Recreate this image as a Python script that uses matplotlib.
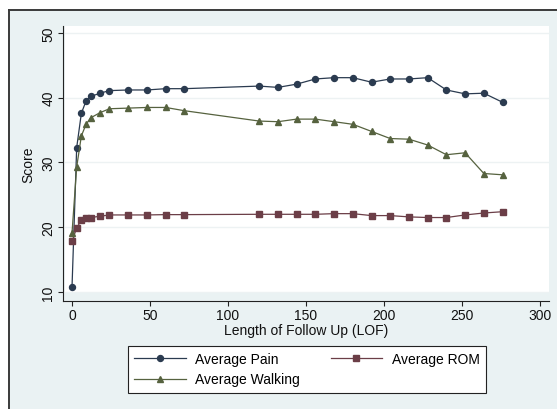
import matplotlib
matplotlib.use("Agg")
import matplotlib.pyplot as plt
from matplotlib.patches import Rectangle
from matplotlib.lines import Line2D

# ---- data ----
lof = [0, 3, 6, 9, 12, 18, 24, 36, 48, 60, 72, 120, 132, 144, 156, 168, 180,
       192, 204, 216, 228, 240, 252, 264, 276]
avg_pain = [10.7, 32.3, 37.6, 39.5, 40.2, 40.7, 41.1, 41.2, 41.2, 41.4, 41.4,
            41.8, 41.6, 42.1, 42.9, 43.1, 43.1, 42.4, 42.9, 42.9, 43.1, 41.2,
            40.6, 40.7, 39.3]
avg_rom = [17.8, 19.9, 21.1, 21.4, 21.5, 21.7, 21.9, 21.9, 21.9, 21.95, 21.95,
           22.0, 22.0, 22.0, 22.0, 22.1, 22.1, 21.8, 21.8, 21.6, 21.5, 21.5,
           21.9, 22.2, 22.4]
avg_walk = [19.1, 29.3, 34.1, 35.9, 36.9, 37.7, 38.3, 38.4, 38.5, 38.5, 38.0,
            36.4, 36.3, 36.7, 36.7, 36.3, 35.9, 34.8, 33.7, 33.6, 32.7, 31.2,
            31.5, 28.3, 28.1]
xticks = [0, 50, 100, 150, 200, 250, 300]
yticks = [10, 20, 30, 40, 50]
labels = ["Average Pain", "Average ROM", "Average Walking"]

plt.rcParams['font.family'] = ['Liberation Sans', 'DejaVu Sans']
plt.rcParams['font.size'] = 10

W, H = 557, 410
fig = plt.figure(figsize=(W / 100, H / 100), dpi=100, facecolor='white')

bg = '#EAF2F3'
x0, y0 = 9 / W, 1 - 11 / H
fig.patches.append(Rectangle((x0, -0.05), 1.05 - x0, y0 + 0.05,
                             transform=fig.transFigure, facecolor=bg,
                             edgecolor='none', linewidth=0, zorder=-5))
fig.lines.append(Line2D([x0, x0], [-0.05, y0], transform=fig.transFigure,
                        color='#3a3a3a', linewidth=1.4, zorder=-4))
fig.lines.append(Line2D([x0, 1.05], [y0, y0], transform=fig.transFigure,
                        color='#3a3a3a', linewidth=1.4, zorder=-4))

ax = fig.add_axes([63 / W, 1 - 302 / H, 486 / W, 275 / H])
ax.patch.set_alpha(0)
ax.set_xlim(-5.77, 305.77)
ax.set_ylim(8.61, 51.08)

# white plot region
ax.add_patch(Rectangle((2 / 486, 8 / 275), 1, 1, transform=ax.transAxes,
                       facecolor='white', edgecolor='none', zorder=0))

for y in yticks:
    ax.axhline(y, color='#EDF2F3', linewidth=1.0, zorder=0.5)

c_pain = '#2b3b50'
c_rom = '#6b3e47'
c_walk = '#56623f'

l1, = ax.plot(lof, avg_pain, color=c_pain, marker='o', markersize=4.3,
              linewidth=0.9, zorder=3, label=labels[0])
l2, = ax.plot(lof, avg_rom, color=c_rom, marker='s', markersize=3.9,
              linewidth=0.9, zorder=3, label=labels[1])
l3, = ax.plot(lof, avg_walk, color=c_walk, marker='^', markersize=4.5,
              linewidth=0.9, zorder=3, label=labels[2])

for s in ['top', 'right']:
    ax.spines[s].set_visible(False)
for s in ['left', 'bottom']:
    ax.spines[s].set_color('#222222')
    ax.spines[s].set_linewidth(0.8)

ax.set_xticks(xticks)
ax.set_yticks(yticks)
ax.tick_params(axis='both', length=3.6, width=0.8, color='#222222', labelsize=10,
               labelcolor='#111111')
ax.tick_params(axis='y', pad=2)
ax.tick_params(axis='x', pad=1.5)
for t in ax.get_yticklabels():
    t.set_rotation(90)
    t.set_va('center')

ax.set_xlabel("Length of Follow Up (LOF)", fontsize=10, labelpad=1, color='#111111')
ax.set_ylabel("Score", fontsize=10, labelpad=4, color='#111111')

leg = fig.legend([l1, l3, l2], [labels[0], labels[2], labels[1]], ncol=2,
                 loc='upper left', bbox_to_anchor=(128 / W, 1 - 347 / H),
                 frameon=True, fancybox=False, edgecolor='#222222',
                 framealpha=1, facecolor='white', handlelength=3.7,
                 handletextpad=0.7, columnspacing=2.2, labelspacing=0.45,
                 borderpad=0.45, fontsize=10, borderaxespad=0)
leg.get_frame().set_linewidth(0.8)

fig.savefig("out.png", dpi=100, facecolor='white')
